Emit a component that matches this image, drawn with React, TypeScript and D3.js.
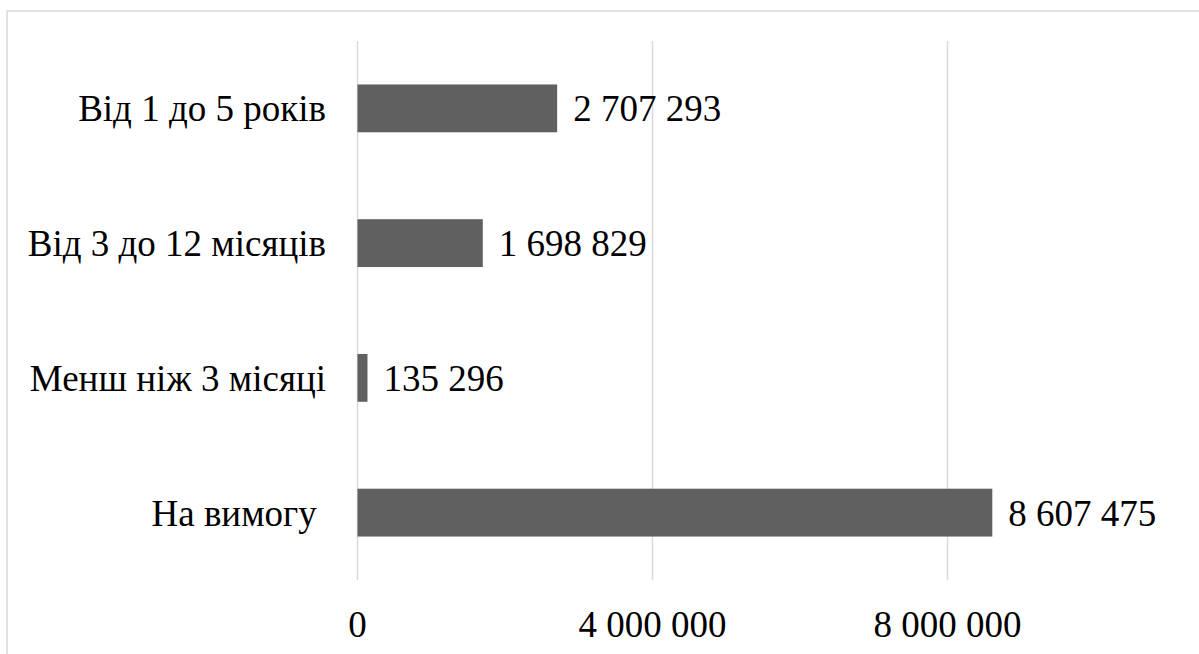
import React, { useEffect, useState } from "react";
import * as d3 from "d3";

const categories = ["Від 1 до 5 років", "Від 3 до 12 місяців", "Менш ніж 3 місяці", "На вимогу\u00A0"];
const values = [2707293, 1698829, 135296, 8607475];
const tickValues = [0, 4000000, 8000000];

const W = 1199;
const H = 654;
const FONT = '"Liberation Serif", "Times New Roman", Tinos, "DejaVu Serif", "Noto Serif", FreeSerif, serif';
const fmt = (v: number) => d3.format(",")(v).replace(/,/g, " ");

export default function App() {
  const [, setTick] = useState(0);
  useEffect(() => {
    const fonts = (document as any).fonts;
    if (fonts && fonts.load) {
      fonts.load('37px "Liberation Serif"', "Від 0").then(() => setTick((t) => t + 1)).catch(() => {});
    }
  }, []);
  const x = d3.scaleLinear().domain([0, 12000000]).range([357.5, 1242.5]);
  const y = d3.scaleBand<string>().domain(categories).range([41, 580]).paddingInner(0.645).paddingOuter(0.3225);
  const fs = 37;
  return (
    <svg width={W} height={H} fontFamily={FONT} fontSize={fs} style={{ position: "absolute", left: 0, top: 0, background: "#fff" }}>
      <rect x={7} y={11} width={W + 20} height={H + 20} fill="#fff" stroke="#d9d9d9" strokeWidth={1.5} />
      {tickValues.map((t) => (
        <line key={t} x1={x(t)} x2={x(t)} y1={41} y2={580} stroke="#d9d9d9" strokeWidth={1.5} />
      ))}
      {categories.map((c, i) => {
        const yc = (y(c) as number) + y.bandwidth() / 2;
        return (
          <g key={c}>
            <rect x={x(0)} y={y(c)} width={x(values[i]) - x(0)} height={y.bandwidth()} fill="#606060" />
            <text x={x(values[i]) + 16} y={yc + 13} fontFamily={FONT} fontSize={fs} fill="#000">
              {fmt(values[i])}
            </text>
            <text x={326} y={yc + 13} textAnchor="end" fontFamily={FONT} fontSize={fs} fill="#000">
              {c}
            </text>
          </g>
        );
      })}
      {tickValues.map((t) => (
        <text key={"l" + t} x={x(t)} y={637} textAnchor="middle" fontFamily={FONT} fontSize={fs} fill="#000">
          {fmt(t)}
        </text>
      ))}
    </svg>
  );
}
